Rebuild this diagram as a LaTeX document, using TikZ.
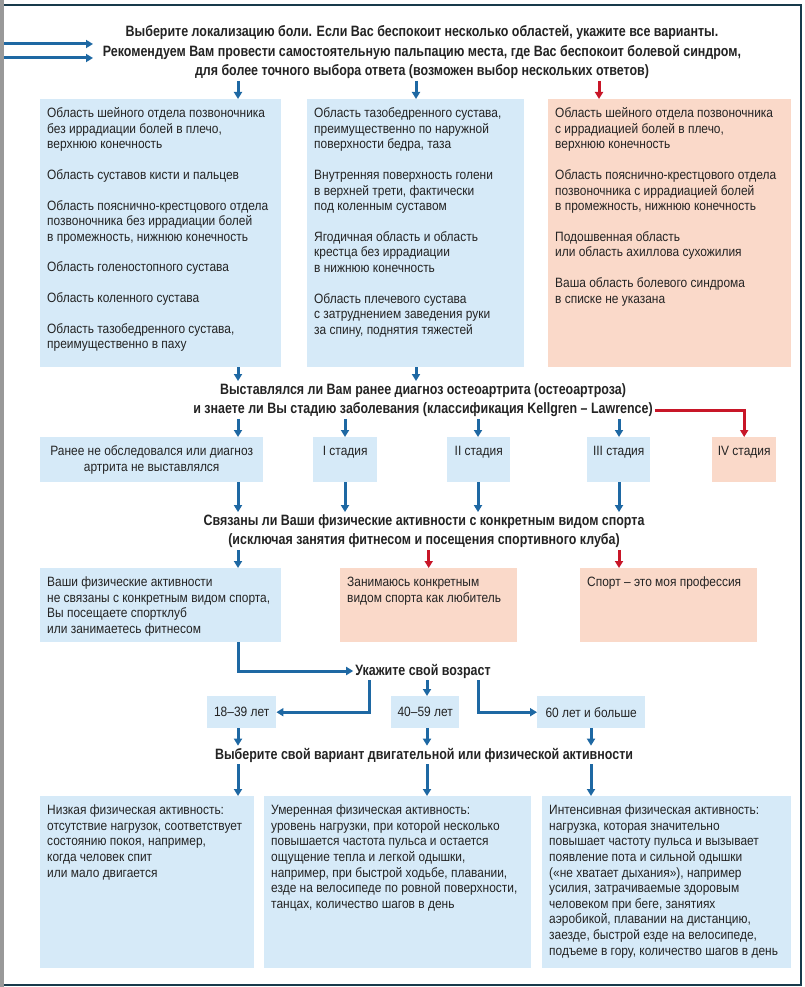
\documentclass[tikz,border=0pt]{standalone}
\usepackage{fontspec}
\setmainfont{Liberation Sans}[FakeStretch=0.885]
\newfontfamily\headfont{Liberation Sans}[FakeStretch=0.83]
\usetikzlibrary{arrows.meta}
\definecolor{boxblue}{RGB}{214,234,248}
\definecolor{boxrose}{RGB}{250,217,201}
\definecolor{lineblue}{RGB}{30,104,163}
\definecolor{linered}{RGB}{200,22,40}
\definecolor{framecol}{RGB}{24,58,75}
\definecolor{textcol}{RGB}{35,35,35}
\newcommand{\bodyfont}{\fontsize{13.5}{15.6}\selectfont}

\begin{document}
\begin{tikzpicture}[x=1pt, y=-1pt,
    box/.style={anchor=north west, inner sep=0pt},
    bluebox/.style={box, fill=boxblue},
    rosebox/.style={box, fill=boxrose},
    boxtext/.style={anchor=north west, align=left, inner xsep=7pt, inner ysep=7.5pt, font=\bodyfont, text=textcol},
    midtext/.style={anchor=north, align=center, inner xsep=0pt, inner ysep=7.5pt, font=\bodyfont, text=textcol},
    agebox/.style={box, fill=boxblue, minimum height=32pt, font=\bodyfont, text=textcol},
    head/.style={align=center, inner sep=2pt, text=textcol, font=\headfont\bfseries\fontsize{15}{19.5}\selectfont},
    flow/.style={draw=lineblue, line width=3pt, -{Triangle[length=7pt,width=8pt]}},
    redflow/.style={flow, draw=linered}]
      \useasboundingbox (0,0) rectangle (805,987);
      \fill[black!40] (0,0) rectangle (4,987);
      \draw[framecol, line width=1.3pt] (4,5) -- (801,5) -- (801,985) -- (4,985);

      \coordinate (colA) at (238,0);
      \coordinate (colB) at (416,0);
      \coordinate (colC) at (599,0);
      \coordinate (colI) at (345,0);
      \coordinate (colII) at (478,0);
      \coordinate (colIII) at (619,0);
      \coordinate (colM) at (427,0);
      \coordinate (colR) at (591,0);
      \coordinate (colL) at (369,0);

      \node[head] (h1) at (422,52) {Выберите локализацию боли. Если Вас беспокоит несколько областей, укажите все варианты.\\
        Рекомендуем Вам провести самостоятельную пальпацию места, где Вас беспокоит болевой синдром,\\
        для более точного выбора ответа (возможен выбор нескольких ответов)};
      \coordinate (inA) at (4,44);
      \coordinate (inB) at (4,58);
      \coordinate (outA) at (93,44);
      \coordinate (outB) at (93,58);
      \draw[flow] (inA) -- (outA);
      \draw[flow] (inB) -- (outB);

      \node[bluebox, minimum width=241pt, minimum height=268pt] (locA) at (40,99) {};
      \node[boxtext] (locAtext) at (locA.north west) {\strut Область шейного отдела позвоночника\\
        без иррадиации болей в плечо,\\
        верхнюю конечность\\[15pt]
        Область суставов кисти и пальцев\\[15pt]
        Область пояснично-крестцового отдела\\
        позвоночника без иррадиации болей\\
        в промежность, нижнюю конечность\\[15pt]
        Область голеностопного сустава\\[15pt]
        Область коленного сустава\\[15pt]
        Область тазобедренного сустава,\\
        преимущественно в паху};
      \node[bluebox, minimum width=217pt, minimum height=268pt] (locB) at (307,99) {};
      \node[boxtext] (locBtext) at (locB.north west) {\strut Область тазобедренного сустава,\\
        преимущественно по наружной\\
        поверхности бедра, таза\\[15pt]
        Внутренняя поверхность голени\\
        в верхней трети, фактически\\
        под коленным суставом\\[15pt]
        Ягодичная область и область\\
        крестца без иррадиации\\
        в нижнюю конечность\\[15pt]
        Область плечевого сустава\\
        с затруднением заведения руки\\
        за спину, поднятия тяжестей};
      \node[rosebox, minimum width=243pt, minimum height=268pt] (locC) at (548,99) {};
      \node[boxtext] (locCtext) at (locC.north west) {\strut Область шейного отдела позвоночника\\
        с иррадиацией болей в плечо,\\
        верхнюю конечность\\[15pt]
        Область пояснично-крестцового отдела\\
        позвоночника с иррадиацией болей\\
        в промежность, нижнюю конечность\\[15pt]
        Подошвенная область\\
        или область ахиллова сухожилия\\[15pt]
        Ваша область болевого синдрома\\
        в списке не указана};

      \draw[flow] (h1.south -| colA) -- (locA.north -| colA);
      \draw[flow] (h1.south -| colB) -- (locB.north -| colB);
      \draw[redflow] (h1.south -| colC) -- (locC.north -| colC);

      \node[head] (h2) at (423,400) {Выставлялся ли Вам ранее диагноз остеоартрита (остеоартроза)\\
        и знаете ли Вы стадию заболевания (классификация Kellgren – Lawrence)};
      \draw[flow] (locA.south -| colA) -- (h2.north -| colA);
      \draw[flow] (locB.south -| colB) -- (h2.north -| colB);

      \node[bluebox, minimum width=223pt, minimum height=45pt] (diag) at (40,437) {};
      \node[midtext] (diagtext) at (diag.north) {\strut Ранее не обследовался или диагноз\\артрита не выставлялся};
      \node[bluebox, minimum width=64pt, minimum height=45pt] (stage1) at (313,437) {};
      \node[midtext] (stage1text) at (stage1.north) {\strut I стадия};
      \node[bluebox, minimum width=63pt, minimum height=45pt] (stage2) at (447,437) {};
      \node[midtext] (stage2text) at (stage2.north) {\strut II стадия};
      \node[bluebox, minimum width=63pt, minimum height=45pt] (stage3) at (587,437) {};
      \node[midtext] (stage3text) at (stage3.north) {\strut III стадия};
      \node[rosebox, minimum width=64pt, minimum height=45pt] (stage4) at (712,437) {};
      \node[midtext] (stage4text) at (stage4.north) {\strut IV стадия};

      \draw[flow] (h2.south -| colA) -- (diag.north -| colA);
      \draw[flow] (h2.south -| colI) -- (stage1.north -| colI);
      \draw[flow] (h2.south -| colII) -- (stage2.north -| colII);
      \draw[flow] (h2.south -| colIII) -- (stage3.north -| colIII);
      \draw[redflow] ([yshift=-10pt]h2.east) -| (stage4.north);

      \node[head] (h3) at (424,531) {Связаны ли Ваши физические активности с конкретным видом спорта\\
        (исключая занятия фитнесом и посещения спортивного клуба)};
      \draw[flow] (diag.south -| colA) -- (h3.north -| colA);
      \draw[flow] (stage1.south -| colI) -- (h3.north -| colI);
      \draw[flow] (stage2.south -| colII) -- (h3.north -| colII);
      \draw[flow] (stage3.south -| colIII) -- (h3.north -| colIII);

      \node[bluebox, minimum width=241pt, minimum height=74pt] (sportA) at (40,568) {};
      \node[boxtext] (sportAtext) at (sportA.north west) {\strut Ваши физические активности\\
        не связаны с конкретным видом спорта,\\
        Вы посещаете спортклуб\\
        или занимаетесь фитнесом};
      \node[rosebox, minimum width=177pt, minimum height=74pt] (sportB) at (340,568) {};
      \node[boxtext] (sportBtext) at (sportB.north west) {\strut Занимаюсь конкретным\\
        видом спорта как любитель};
      \node[rosebox, minimum width=177pt, minimum height=74pt] (sportC) at (580,568) {};
      \node[boxtext] (sportCtext) at (sportC.north west) {\strut Спорт – это моя профессия};

      \draw[flow] (h3.south -| colA) -- (sportA.north -| colA);
      \draw[redflow] (h3.south -| sportB.north) -- (sportB.north);
      \draw[redflow] (h3.south -| colIII) -- (sportC.north -| colIII);

      \node[head] (age) at (423,671) {Укажите свой возраст};
      \draw[flow] (sportA.south -| colA) |- (age.west);

      \node[agebox, minimum width=69pt] (ageA) at (207,696) {18–39 лет};
      \node[agebox, minimum width=68pt] (ageB) at (391,696) {40–59 лет};
      \node[agebox, minimum width=108pt] (ageC) at (537,696) {60 лет и больше};
      \draw[flow] (age.south -| colL) |- (ageA.east);
      \draw[flow] (age.south -| colM) -- (ageB.north -| colM);
      \draw[flow] (age.south -| colII) |- (ageC.west);

      \node[head] (h5) at (424,755) {Выберите свой вариант двигательной или физической активности};
      \draw[flow] (ageA.south -| colA) -- (h5.north -| colA);
      \draw[flow] (ageB.south -| colM) -- (h5.north -| colM);
      \draw[flow] (ageC.south -| colR) -- (h5.north -| colR);

      \node[bluebox, minimum width=214pt, minimum height=172pt] (actA) at (40,796) {};
      \node[boxtext] (actAtext) at (actA.north west) {\strut Низкая физическая активность:\\
        отсутствие нагрузок, соответствует\\
        состоянию покоя, например,\\
        когда человек спит\\
        или мало двигается};
      \node[bluebox, minimum width=267pt, minimum height=172pt] (actB) at (264,796) {};
      \node[boxtext] (actBtext) at (actB.north west) {\strut Умеренная физическая активность:\\
        уровень нагрузки, при которой несколько\\
        повышается частота пульса и остается\\
        ощущение тепла и легкой одышки,\\
        например, при быстрой ходьбе, плавании,\\
        езде на велосипеде по ровной поверхности,\\
        танцах, количество шагов в день};
      \node[bluebox, minimum width=249pt, minimum height=172pt] (actC) at (542,796) {};
      \node[boxtext] (actCtext) at (actC.north west) {\strut Интенсивная физическая активность:\\
        нагрузка, которая значительно\\
        повышает частоту пульса и вызывает\\
        появление пота и сильной одышки\\
        («не хватает дыхания»), например\\
        усилия, затрачиваемые здоровым\\
        человеком при беге, занятиях\\
        аэробикой, плавании на дистанцию,\\
        заезде, быстрой езде на велосипеде,\\
        подъеме в гору, количество шагов в день};

      \draw[flow] (h5.south -| colA) -- (actA.north -| colA);
      \draw[flow] (h5.south -| colM) -- (actB.north -| colM);
      \draw[flow] (h5.south -| colR) -- (actC.north -| colR);
    \end{tikzpicture}
\end{document}
